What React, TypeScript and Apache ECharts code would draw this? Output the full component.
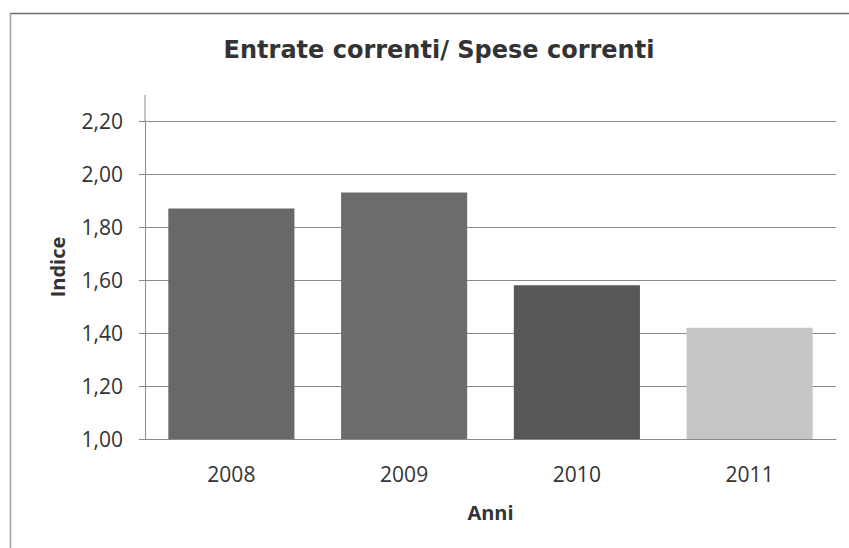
import React, { useEffect, useRef } from "react";
import * as echarts from "echarts";

const categories = ["2008", "2009", "2010", "2011"];
const values = [1.87, 1.93, 1.58, 1.42];
const barColors = ["#686868", "#6c6c6c", "#575757", "#c6c6c6"];
const yTicks = { min: 1.0, max: 2.2, interval: 0.2 };

export default function App() {
  const ref = useRef<HTMLDivElement>(null);
  useEffect(() => {
    if (!ref.current) return;
    const chart = echarts.init(ref.current, null, { renderer: "svg" });
    chart.setOption({
      animation: false,
      backgroundColor: "#ffffff",
      title: {
        text: "Entrate correnti/ Spese correnti",
        left: 434,
        top: 33,
        textAlign: "center",
        textStyle: {
          fontFamily: "DejaVu Sans",
          fontWeight: "bold",
          fontSize: 24,
          color: "#333333",
        },
      },
      graphic: [
        {
          type: "line",
          shape: { x1: 10, y1: 13.5, x2: 849, y2: 13.5 },
          style: { stroke: "#6a6a6a", lineWidth: 1.5 },
          silent: true,
        },
        {
          type: "line",
          shape: { x1: 10.5, y1: 13, x2: 10.5, y2: 548 },
          style: { stroke: "#a0a0a0", lineWidth: 1.5 },
          silent: true,
        },
        {
          type: "line",
          shape: { x1: 145, y1: 95, x2: 145, y2: 121 },
          style: { stroke: "#8a8a8a", lineWidth: 1 },
          silent: true,
        },
      ],
      grid: { left: 145, right: 13, top: 121, bottom: 109 },
      xAxis: {
        type: "category",
        data: categories,
        name: "Anni",
        nameLocation: "middle",
        nameGap: 63,
        nameTextStyle: {
          fontFamily: "Open Sans",
          fontWeight: "bold",
          fontSize: 20,
          color: "#333333",
        },
        axisLine: { show: true, lineStyle: { color: "#8a8a8a", width: 1 } },
        axisTick: { show: false },
        axisLabel: {
          margin: 24,
          fontFamily: "Open Sans",
          fontSize: 21,
          color: "#333333",
        },
      },
      yAxis: {
        type: "value",
        min: yTicks.min,
        max: yTicks.max,
        interval: yTicks.interval,
        name: "Indice",
        nameLocation: "middle",
        nameGap: 78,
        nameRotate: 90,
        nameTextStyle: {
          fontFamily: "Open Sans",
          fontWeight: "bold",
          fontSize: 20,
          color: "#333333",
          padding: [0, 0, 0, 26],
        },
        axisLine: { show: true, lineStyle: { color: "#8a8a8a", width: 1 } },
        axisTick: { show: true, length: 6, lineStyle: { color: "#8a8a8a" } },
        splitLine: { show: true, lineStyle: { color: "#8a8a8a", width: 1 } },
        axisLabel: {
          margin: 22,
          fontFamily: "Open Sans",
          fontSize: 21,
          color: "#333333",
          formatter: (v: number) => v.toFixed(2).replace(".", ","),
        },
      },
      series: [
        {
          type: "bar",
          data: values.map((v, i) => ({ value: v, itemStyle: { color: barColors[i] } })),
          barCategoryGap: "27%",
        },
      ],
    });
    return () => chart.dispose();
  }, []);
  return (
    <div
      ref={ref}
      style={{ position: "fixed", left: 0, top: 0, width: 849, height: 548 }}
    />
  );
}
